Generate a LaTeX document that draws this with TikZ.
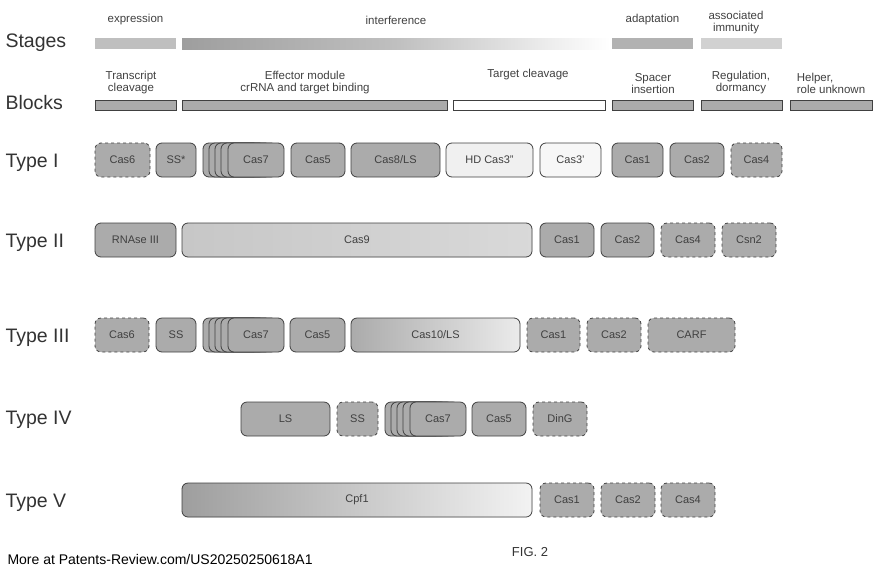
\documentclass[tikz,border=0pt]{standalone}
\usepackage{fontspec}
\setmainfont{Liberation Sans}
\begin{document}
\begin{tikzpicture}[x=1pt,y=-1pt,
 bx/.style={draw=black!75,line width=0.8pt,rounded corners=6pt,fill=black!33,font=\fontsize{11}{11}\selectfont,text=black!75,inner sep=0pt},
 dsh/.style={dashed},
 lab/.style={anchor=west,font=\fontsize{19.5}{19.5}\selectfont,text=black!80},
 hd/.style={font=\fontsize{11.5}{12}\selectfont,text=black!75,align=center,anchor=south},
 bar/.style={draw=black!75,line width=0.8pt,fill=black!33}]
\useasboundingbox (0,0) rectangle (880,576);
\newcommand\bx[6]{\node[bx,#5,minimum width={(#3)-(#2)},minimum height=34] (#1) at ({((#2)+(#3))/2},#4) {#6};}
\newcommand\stk[4]{%
 \foreach \o in {0,6,12,18}{\node[bx,minimum width=56,minimum height=34] at ({#2+\o+28},#3) {};}
 \bx{#1}{#2+25}{#2+81}{#3}{}{#4}}
% stages
\node[lab] (st) at (2,43) {Stages};
\fill[black!25] (95,38) rectangle (176,49);
\shade[left color=black!38,right color=white,middle color=black!25] (182,38) rectangle (610,49);
\fill[black!30] (612,38) rectangle (693,49);
\fill[black!18] (701,38) rectangle (782,49);
\node[hd] (e1) at (135.5,28) {expression};
\node[hd] (e2) at (396,28) {interference};
\node[hd] (e3) at (652.5,28) {adaptation};
\node[hd] (e4) at (736,37) {associated\\immunity};
% blocks
\node[lab] (bl) at (2,103) {Blocks};
\draw[bar] (95,100) rectangle (176,110);
\draw[bar] (182,100) rectangle (447,110);
\draw[bar,fill=white] (453,100) rectangle (605,110);
\draw[bar] (612,100) rectangle (693,110);
\draw[bar] (701,100) rectangle (782,110);
\draw[bar] (790,100) rectangle (872,110);
\node[hd] (b1) at (131,97) {Transcript\\cleavage};
\node[hd] (b2) at (305,97) {Effector module\\crRNA and target binding};
\node[hd] (b3) at (528,83) {Target cleavage};
\node[hd] (b4) at (653,97) {Spacer\\insertion};
\node[hd] (b5) at (741,97) {Regulation,\\dormancy};
\node[hd,align=left] (b6) at (831,97) {Helper,\\role unknown};
% Type I
\node[lab] (t1) at (2,163) {Type I};
\bx{a1}{95}{150}{160}{dsh}{Cas6}
\bx{a2}{156}{196}{160}{}{SS*}
\stk{a3}{203}{160}{Cas7}
\bx{a4}{291}{345}{160}{}{Cas5}
\bx{a5}{351}{440}{160}{}{Cas8/LS}
\bx{a6}{446}{533}{160}{fill=black!6}{HD Cas3''}
\bx{a7}{540}{601}{160}{fill=black!3}{Cas3'}
\bx{a8}{612}{663}{160}{}{Cas1}
\bx{a9}{670}{724}{160}{}{Cas2}
\bx{a10}{731}{782}{160}{dsh}{Cas4}
% Type II
\node[lab] (t2) at (2,243) {Type II};
\bx{c1}{95}{176}{240}{}{RNAse III}
\bx{c2}{182}{532}{240}{left color=black!22,middle color=black!33,right color=black!15}{Cas9}
\bx{c3}{540}{594}{240}{}{Cas1}
\bx{c4}{601}{654}{240}{}{Cas2}
\bx{c5}{661}{715}{240}{dsh}{Cas4}
\bx{c6}{722}{776}{240}{dsh}{Csn2}
% Type III
\node[lab] (t3) at (2,338) {Type III};
\bx{d1}{95}{149}{335}{dsh}{Cas6}
\bx{d2}{156}{196}{335}{}{SS}
\stk{d3}{203}{335}{Cas7}
\bx{d4}{290}{345}{335}{}{Cas5}
\bx{d5}{351}{520}{335}{left color=black!33,middle color=black!33,right color=black!8}{Cas10/LS}
\bx{d6}{527}{580}{335}{dsh}{Cas1}
\bx{d7}{587}{641}{335}{dsh}{Cas2}
\bx{d8}{648}{735}{335}{dsh}{CARF}
% Type IV
\node[lab] (t4) at (2,420) {Type IV};
\bx{f1}{241}{330}{419}{}{LS}
\bx{f2}{337}{378}{419}{dsh}{SS}
\stk{f3}{385}{419}{Cas7}
\bx{f4}{472}{526}{419}{}{Cas5}
\bx{f5}{533}{587}{419}{dsh}{DinG}
% Type V
\node[lab] (t5) at (2,503) {Type V};
\bx{g1}{182}{532}{500}{left color=black!38,middle color=black!33,right color=black!5}{Cpf1}
\bx{g2}{540}{594}{500}{dsh}{Cas1}
\bx{g3}{601}{655}{500}{dsh}{Cas2}
\bx{g4}{661}{715}{500}{dsh}{Cas4}
% footer
\node[anchor=west,font=\fontsize{14}{14}\selectfont] (ft) at (4,559) {More at Patents-Review.com/US20250250618A1};
\node[font=\fontsize{13}{13}\selectfont,text=black!80] (fig) at (530,552) {FIG. 2};
\end{tikzpicture}
\end{document}
